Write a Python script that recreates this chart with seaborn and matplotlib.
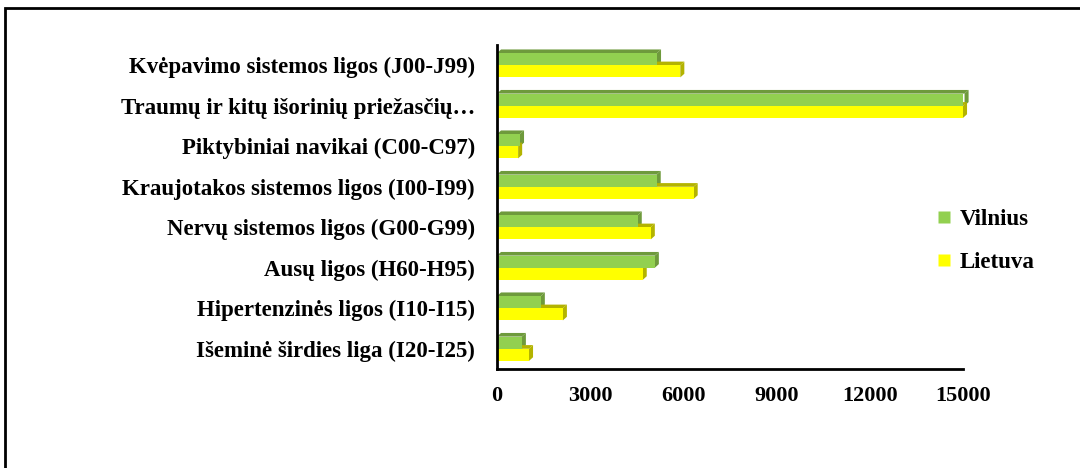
import matplotlib
matplotlib.use("Agg")
import matplotlib.pyplot as plt
from matplotlib.patches import Polygon, Rectangle
from matplotlib.lines import Line2D
import seaborn as sns
import pandas as pd
import numpy as np

categories = [
    "Kvėpavimo sistemos ligos (J00-J99)",
    "Traumų ir kitų išorinių priežasčių…",
    "Piktybiniai navikai (C00-C97)",
    "Kraujotakos sistemos ligos (I00-I99)",
    "Nervų sistemos ligos (G00-G99)",
    "Ausų ligos (H60-H95)",
    "Hipertenzinės ligos (I10-I15)",
    "Išeminė širdies liga (I20-I25)",
]
vilnius = [5150, 15050, 740, 5140, 4530, 5080, 1410, 800]
lietuva = [5900, 15000, 680, 6330, 4950, 4690, 2120, 1030]
series = ["Vilnius", "Lietuva"]
xticks = [0, 3000, 6000, 9000, 12000, 15000]

df = pd.DataFrame({
    "category": categories * 2,
    "value": vilnius + lietuva,
    "series": [series[0]] * len(categories) + [series[1]] * len(categories),
})

sns.set_style("white")
plt.rcParams["font.family"] = ["Liberation Serif", "DejaVu Serif"]
plt.rcParams["font.weight"] = "bold"
plt.rcParams["text.color"] = "black"
plt.rcParams["xtick.color"] = "black"
plt.rcParams["ytick.color"] = "black"

face = {"Vilnius": "#92D050", "Lietuva": "#FFFF00"}
dark = {"Vilnius": "#6E9A3C", "Lietuva": "#B3B300"}

fig = plt.figure(figsize=(10.8, 4.68), dpi=100)
ax = fig.add_axes([497 / 1080, 1 - 369 / 468, (963 - 497) / 1080, (369 - 45) / 468])

sns.barplot(data=df, y="category", x="value", hue="series", orient="h",
            palette=face, width=0.6, ax=ax, legend=False, saturation=1,
            linewidth=0, order=categories, hue_order=series)

# pseudo-3D faces
dx = 130
dy = 0.09
n = len(categories)
for i, p in enumerate(list(ax.patches)):
    x, y = p.get_x(), p.get_y()
    w, h = p.get_width(), p.get_height()
    if w <= 0:
        continue
    key = series[i // n] if i < 2 * n else series[0]
    c = dark[key]
    z = p.get_zorder() - 0.5
    ax.add_patch(Polygon([(x + w, y), (x + w + dx, y - dy), (x + w + dx, y + h - dy), (x + w, y + h)],
                         closed=True, facecolor=c, edgecolor="none", zorder=z, clip_on=False))
    ax.add_patch(Polygon([(x, y), (x + dx, y - dy), (x + w + dx, y - dy), (x + w, y)],
                         closed=True, facecolor=c, edgecolor="none", zorder=z, clip_on=False))

ax.set_xlim(0, 15000)
ax.set_ylim(n - 0.5, -0.5)
ax.set_xticks(xticks)
ax.set_xticklabels([str(t) for t in xticks], fontsize=16, fontweight="bold", color="black")
ax.set_yticks(range(n))
ax.set_yticklabels(categories, fontsize=16.5, fontweight="bold", color="black")
ax.tick_params(axis="both", length=0)
ax.tick_params(axis="x", pad=12)
ax.tick_params(axis="y", pad=16)
ax.set_xlabel("")
ax.set_ylabel("")
for s in ["top", "right"]:
    ax.spines[s].set_visible(False)
for s in ["left", "bottom"]:
    ax.spines[s].set_color("black")
    ax.spines[s].set_linewidth(2)
ax.grid(False)

handles = [Line2D([0], [0], marker="s", linestyle="none", markersize=8,
                  markerfacecolor=face[s], markeredgecolor="none") for s in series]
fig.legend(handles, series, loc="center left", bbox_to_anchor=(912 / 1080, 1 - 241 / 468),
           frameon=False, prop={"family": "Liberation Serif", "weight": "bold", "size": 16.5},
           handletextpad=0.2, labelspacing=1.0, handlelength=1.0, labelcolor="black")

# outer frame (top and left visible)
fig.add_artist(Rectangle((5 / 1080, -0.2), 1.2, 1 - 8 / 468 + 0.2, transform=fig.transFigure,
                         fill=False, edgecolor="black", linewidth=2))

fig.savefig("out.png", dpi=100, facecolor="white")
